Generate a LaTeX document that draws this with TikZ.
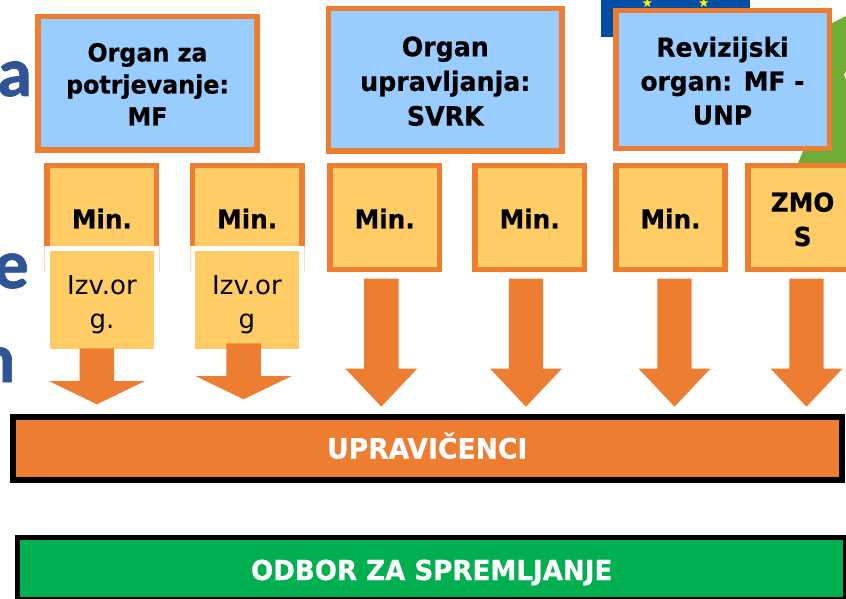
\documentclass[tikz,border=0pt]{standalone}
\usepackage{fontspec}
\setmainfont[BoldFeatures={FakeStretch=0.95,FakeBold=0.6}]{DejaVu Sans}
\newfontfamily\bgfont[BoldFeatures={FakeBold=1}]{Carlito}
\newcommand{\dn}[2]{\raisebox{-#1pt}[18pt][5pt]{#2}}
\usetikzlibrary{shapes.geometric}
\definecolor{org}{HTML}{ED7D31}
\definecolor{lblue}{HTML}{99CCFF}
\definecolor{yel}{HTML}{FFCC66}
\definecolor{grn}{HTML}{00B050}
\definecolor{tblue}{HTML}{2F5597}
\definecolor{eu}{HTML}{004FA5}
\definecolor{lgreen}{HTML}{70AD37}
\tikzset{x=1pt,y=-1pt,
 organbox/.style 2 args={draw=org,line width=5.6pt,fill=lblue,align=center,inner sep=0pt,font=\fontsize{#1}{#2}\selectfont\bfseries},
 minbox/.style={draw=org,line width=5.6pt,fill=yel,align=center,inner sep=0pt,minimum width=109.3pt,minimum height=103.7pt,font=\fontsize{26}{34.3}\selectfont\bfseries},
 izvbox/.style={fill=yel,align=center,inner sep=0pt,minimum width=104pt,minimum height=98pt,font=\fontsize{26}{33.3}\selectfont},
 barbox/.style={draw=black,line width=5.6pt,align=center,inner sep=0pt,text=white,font=\fontsize{#1}{30}\selectfont\bfseries},
 euro/.style={star,star points=5,star point ratio=2.5,fill=yellow,draw=none,inner sep=0pt,minimum size=10pt},
 bgletter/.style={text=tblue,anchor=base east,font=\bgfont\fontsize{70}{70}\selectfont\bfseries,inner sep=0pt}}
\begin{document}
\begin{tikzpicture}
\useasboundingbox (0,0) rectangle (846,599);
\fill[white] (0,0) rectangle (846,599);
% background
\fill[lgreen] (797.3,165) -- (803,151) -- (825,60) -- (832,23) -- (846,16) -- (846,165) -- cycle;
\fill[white] (846,71) -- (844,75) -- (846,79) -- cycle;
\fill[eu] (601,0) rectangle (750,36.7);
\node[euro] (s1) at (647.3,3) {};
\node[euro] (s2) at (703.7,3) {};
\node[bgletter] (la) at (32,96) {a};
\node[bgletter] (le) at (29,288) {e};
\node[bgletter] (ln) at (15.5,382) {n};
% organ boxes
\node[organbox={25}{32},minimum width=218.8pt,minimum height=133.3pt] (o1) at (147.5,83.3) {\dn{3.7}{Organ za}\\\dn{3.7}{potrjevanje:}\\\dn{3.7}{MF}};
\node[organbox={26.6}{34.7},minimum width=233.3pt,minimum height=142.3pt] (o2) at (445.3,79.8) {\dn{4.6}{Organ}\\\dn{4.6}{upravljanja:}\\\dn{4.6}{SVRK}};
\node[organbox={26.2}{33.9},minimum width=213.6pt,minimum height=138pt] (o3) at (722.5,79.7) {\dn{4.4}{Revizijski}\\\dn{4.4}{organ: MF -}\\\dn{4.4}{UNP}};
% min boxes
\node[minbox] (m1) at (101.9,217.5) {\dn{4.3}{Min.}};
\node[minbox] (m2) at (247.2,217.5) {\dn{4.3}{Min.}};
\fill[white] (41,246) rectangle (163,273) (186,246) rectangle (308,273);
\draw[org!30,line width=.8pt] (44.8,246) -- (44.8,272) (159.2,246) -- (159.2,272) (190,246) -- (190,272) (304.5,246) -- (304.5,272);
\node[minbox] (m3) at (384.7,217.5) {\dn{4.3}{Min.}};
\node[minbox] (m4) at (529.7,217.5) {\dn{4.3}{Min.}};
\node[minbox] (m5) at (670.5,217.5) {\dn{4.3}{Min.}};
\node[minbox] (m6) at (802.6,217.5) {\dn{4.8}{ZMO}\\\dn{4.8}{S}};
\node[izvbox] (i1) at (102,300) {\dn{5.1}{Izv.or}\\\dn{5.1}{g.}};
\node[izvbox] (i2) at (247,300) {\dn{5.1}{Izv.or}\\\dn{5.1}{g}};
% arrows
\foreach \n/\c/\t/\b/\w/\h in {a1/96.9/348.3/381/48.2/404.3,a2/243.6/343.3/376/48.2/399.3,a3/381.3/278.7/368.5/36/406.7,a4/526/278.7/368.5/36/406.7,a5/674.5/278.7/368.5/36/406.7,a6/806.5/278.7/368.5/36/406.7}{
 \fill[org] (\c-17.2,\t) -- (\c+17.2,\t) -- (\c+17.2,\b) -- (\c+\w,\b) -- (\c,\h) -- (\c-\w,\b) -- (\c-17.2,\b) -- cycle;
}
% bars
\node[barbox=28,fill=org,minimum width=829pt,minimum height=63pt] (u) at (427.2,448.2) {\dn{3.8}{UPRAVIČENCI}};
\node[barbox=27.5,fill=grn,minimum width=828.6pt,minimum height=62.3pt] (b) at (431.7,568.8) {\dn{4.7}{ODBOR ZA SPREMLJANJE}};
\end{tikzpicture}
\end{document}
